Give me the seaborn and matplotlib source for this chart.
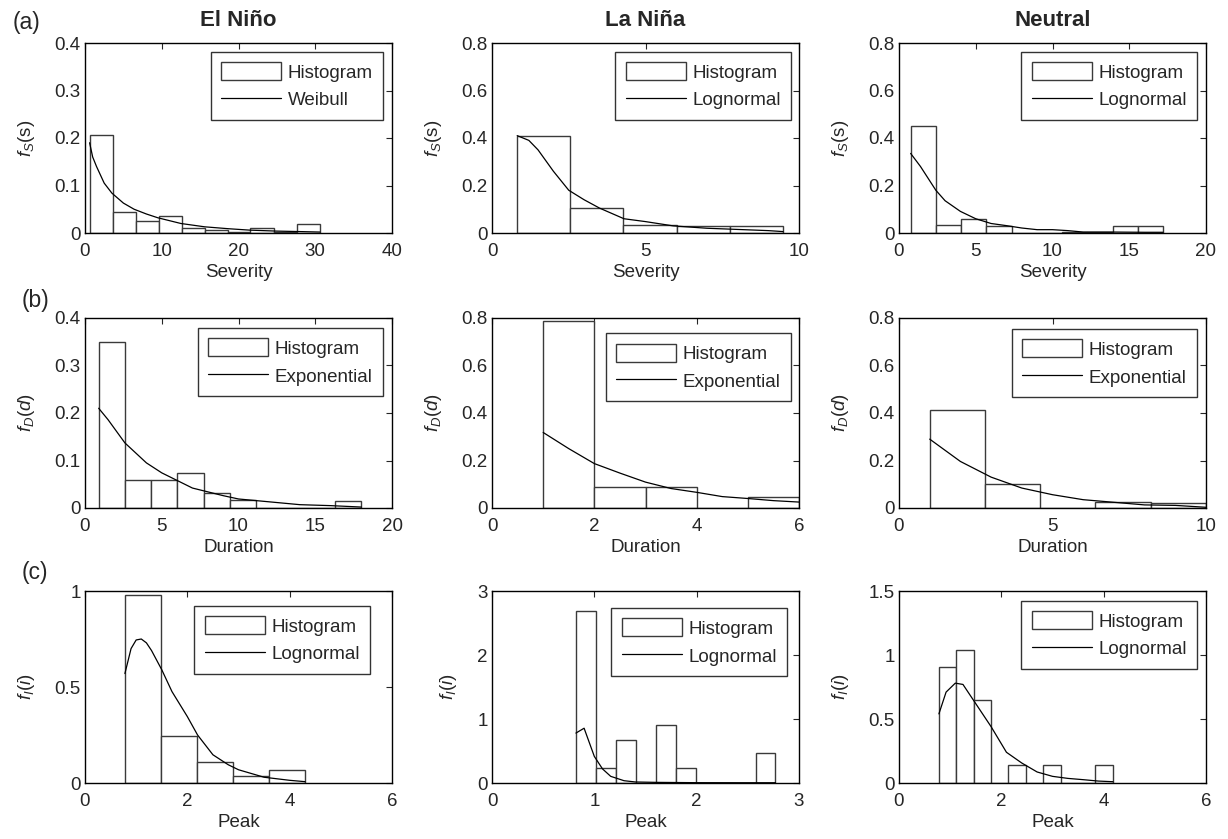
import numpy as np
import pandas as pd
import matplotlib
matplotlib.use("Agg")
import matplotlib.pyplot as plt
import seaborn as sns
from matplotlib.patches import Patch
from matplotlib.lines import Line2D
from matplotlib.ticker import FuncFormatter

# =============================================
# Data
# =============================================
phases = ['El Niño', 'La Niña', 'Neutral']
variables = ['Severity', 'Duration', 'Peak']
ylabels = [r'$f_S$(s)', r'$f_D(d)$', r'$f_I(i)$']
row_tags = ['(a)', '(b)', '(c)']
fit_names = [['Weibull', 'Lognormal', 'Lognormal'],
             ['Exponential', 'Exponential', 'Exponential'],
             ['Lognormal', 'Lognormal', 'Lognormal']]

# --- Severity ---
sev_nino_edges = [0.6, 3.6, 6.6, 9.6, 12.6, 15.6, 18.6, 21.5, 24.6, 27.6, 30.6]
sev_nino_hist = [0.207, 0.044, 0.025, 0.036, 0.0105, 0.007, 0.003, 0.0105, 0.003, 0.019]
sev_nino_fx = [0.6, 1.0, 1.5, 2.5, 3.5, 5.0, 6.4, 8.0, 9.5, 12.5, 15.6, 18.7, 21.5, 25.0, 28.0, 30.6]
sev_nino_fy = [0.19, 0.16, 0.14, 0.105, 0.084, 0.063, 0.05, 0.04, 0.032, 0.02, 0.013, 0.009, 0.006, 0.004, 0.003, 0.002]

sev_nina_edges = [0.82, 2.55, 4.28, 6.01, 7.75, 9.48]
sev_nina_hist = [0.408, 0.105, 0.032, 0.030, 0.031]
sev_nina_fx = [0.82, 1.2, 1.5, 2.0, 2.5, 3.0, 3.5, 4.3, 5.0, 5.9, 7.0, 8.0, 9.0, 9.48]
sev_nina_fy = [0.41, 0.39, 0.35, 0.26, 0.18, 0.14, 0.105, 0.06, 0.048, 0.03, 0.02, 0.015, 0.01, 0.006]

sev_neut_edges = [0.76, 2.40, 4.05, 5.69, 7.34, 8.98, 10.63, 12.27, 13.92, 15.56, 17.2]
sev_neut_hist = [0.452, 0.032, 0.057, 0.031, 0.0, 0.0, 0.005, 0.005, 0.031, 0.031]
sev_neut_fx = [0.76, 1.4, 2.4, 3.0, 4.0, 5.0, 6.0, 7.0, 8.0, 9.0, 10.0, 11.0, 12.0, 14.0, 16.0, 17.2]
sev_neut_fy = [0.335, 0.28, 0.18, 0.136, 0.091, 0.06, 0.04, 0.031, 0.021, 0.014, 0.014, 0.01, 0.004, 0.004, 0.003, 0.003]

# --- Duration ---
dur_nino_edges = [0.89, 2.6, 4.31, 6.02, 7.73, 9.44, 11.15, 12.86, 14.57, 16.28, 18.0]
dur_nino_hist = [0.349, 0.059, 0.059, 0.073, 0.032, 0.016, 0.0, 0.0, 0.0, 0.0155]
dur_nino_fx = [0.89, 1.5, 2.6, 4.0, 5.0, 6.0, 7.0, 8.0, 9.0, 10.0, 12.0, 14.0, 16.0, 18.0]
dur_nino_fy = [0.21, 0.186, 0.137, 0.095, 0.074, 0.058, 0.042, 0.034, 0.026, 0.019, 0.013, 0.007, 0.005, 0.002]

dur_nina_edges = [1.0, 2.0, 3.0, 4.0, 5.0, 6.0]
dur_nina_hist = [0.788, 0.088, 0.088, 0.0, 0.045]
dur_nina_fx = [1.0, 1.5, 2.0, 2.5, 3.0, 3.5, 4.0, 4.5, 5.0, 5.5, 6.0]
dur_nina_fy = [0.318, 0.25, 0.187, 0.147, 0.109, 0.082, 0.066, 0.048, 0.04, 0.031, 0.025]

dur_neut_edges = [1.0, 2.8, 4.6, 6.4, 8.2, 10.0]
dur_neut_hist = [0.412, 0.10, 0.0, 0.026, 0.022]
dur_neut_fx = [1.0, 2.0, 3.0, 4.0, 5.0, 6.0, 7.0, 8.0, 9.0, 10.0]
dur_neut_fy = [0.29, 0.196, 0.13, 0.084, 0.056, 0.035, 0.024, 0.013, 0.011, 0.003]

# --- Peak ---
peak_nino_edges = [0.78, 1.485, 2.19, 2.895, 3.60, 4.305]
peak_nino_hist = [0.977, 0.247, 0.107, 0.038, 0.067]
peak_nino_fx = [0.78, 0.9, 1.0, 1.1, 1.2, 1.3, 1.5, 1.7, 2.0, 2.2, 2.5, 2.8, 3.0, 3.5, 4.0, 4.3]
peak_nino_fy = [0.57, 0.70, 0.745, 0.75, 0.73, 0.69, 0.59, 0.476, 0.346, 0.25, 0.147, 0.095, 0.069, 0.03, 0.014, 0.007]

peak_nina_edges = [0.82, 1.015, 1.21, 1.405, 1.60, 1.795, 1.99, 2.185, 2.38, 2.575, 2.77]
peak_nina_hist = [2.69, 0.228, 0.67, 0.0, 0.903, 0.228, 0.0, 0.0, 0.0, 0.462]
peak_nina_fx = [0.82, 0.90, 1.0, 1.08, 1.16, 1.29, 1.40, 1.6, 2.0, 2.4, 2.77]
peak_nina_fy = [0.78, 0.856, 0.415, 0.22, 0.104, 0.036, 0.016, 0.01, 0.005, 0.004, 0.004]

peak_neut_edges = [0.78, 1.12, 1.46, 1.80, 2.14, 2.48, 2.82, 3.16, 3.50, 3.84, 4.18]
peak_neut_hist = [0.906, 1.036, 0.649, 0.0, 0.14, 0.0, 0.14, 0.0, 0.0, 0.14]
peak_neut_fx = [0.78, 0.92, 1.1, 1.25, 1.5, 1.8, 2.1, 2.4, 2.7, 3.0, 3.3, 3.6, 3.9, 4.18]
peak_neut_fy = [0.54, 0.71, 0.78, 0.77, 0.62, 0.44, 0.24, 0.156, 0.086, 0.052, 0.036, 0.026, 0.015, 0.01]

panels = [
    [(sev_nino_edges, sev_nino_hist, sev_nino_fx, sev_nino_fy),
     (sev_nina_edges, sev_nina_hist, sev_nina_fx, sev_nina_fy),
     (sev_neut_edges, sev_neut_hist, sev_neut_fx, sev_neut_fy)],
    [(dur_nino_edges, dur_nino_hist, dur_nino_fx, dur_nino_fy),
     (dur_nina_edges, dur_nina_hist, dur_nina_fx, dur_nina_fy),
     (dur_neut_edges, dur_neut_hist, dur_neut_fx, dur_neut_fy)],
    [(peak_nino_edges, peak_nino_hist, peak_nino_fx, peak_nino_fy),
     (peak_nina_edges, peak_nina_hist, peak_nina_fx, peak_nina_fy),
     (peak_neut_edges, peak_neut_hist, peak_neut_fx, peak_neut_fy)],
]

xlims = [[(0, 40), (0, 10), (0, 20)], [(0, 20), (0, 6), (0, 10)], [(0, 6), (0, 3), (0, 6)]]
xticks = [[[0, 10, 20, 30, 40], [0, 5, 10], [0, 5, 10, 15, 20]],
          [[0, 5, 10, 15, 20], [0, 2, 4, 6], [0, 5, 10]],
          [[0, 2, 4, 6], [0, 1, 2, 3], [0, 2, 4, 6]]]
ylims = [[(0, 0.4), (0, 0.8), (0, 0.8)], [(0, 0.4), (0, 0.8), (0, 0.8)], [(0, 1), (0, 3), (0, 1.5)]]
yticks = [[[0, 0.1, 0.2, 0.3, 0.4], [0, 0.2, 0.4, 0.6, 0.8], [0, 0.2, 0.4, 0.6, 0.8]],
          [[0, 0.1, 0.2, 0.3, 0.4], [0, 0.2, 0.4, 0.6, 0.8], [0, 0.2, 0.4, 0.6, 0.8]],
          [[0, 0.5, 1], [0, 1, 2, 3], [0, 0.5, 1, 1.5]]]
legend_anchor = [[(0.971, 0.953), (0.974, 0.953), (0.971, 0.953)],
                 [(0.971, 0.947), (0.974, 0.92), (0.971, 0.942)],
                 [(0.928, 0.922), (0.961, 0.911), (0.971, 0.948)]]

# =============================================
# Plotting
# =============================================
sns.set_style("white")
plt.rcParams['font.family'] = ['Liberation Sans', 'DejaVu Sans']
plt.rcParams['mathtext.fontset'] = 'custom'
plt.rcParams['mathtext.rm'] = 'Liberation Sans'
plt.rcParams['mathtext.it'] = 'Liberation Sans:italic'
plt.rcParams['font.size'] = 13.5

W, H = 1228, 839
fig = plt.figure(figsize=(W / 100, H / 100), dpi=100)

col_left = [85, 492, 899]
row_top = [43, 318, 591]
row_h = [190, 190, 192]
ax_w = 307

hist_edge = '#3a3a3a'
fmt = FuncFormatter(lambda v, p: '%g' % v)

for r in range(3):
    for c in range(3):
        left = col_left[c] / W
        bottom = 1 - (row_top[r] + row_h[r]) / H
        ax = fig.add_axes([left, bottom, ax_w / W, row_h[r] / H])
        edges, hist, fx, fy = panels[r][c]
        centers = [(edges[i] + edges[i + 1]) / 2 for i in range(len(hist))]
        df_h = pd.DataFrame({'x': centers, 'w': hist})
        sns.histplot(data=df_h, x='x', weights='w', bins=edges, stat='count',
                     color='white', edgecolor=hist_edge, linewidth=1.0,
                     alpha=1, ax=ax)
        df_f = pd.DataFrame({'x': fx, 'y': fy})
        sns.lineplot(data=df_f, x='x', y='y', color='black', linewidth=0.9, ax=ax)

        ax.set_xlim(*xlims[r][c])
        ax.set_ylim(*ylims[r][c])
        ax.set_xticks(xticks[r][c])
        ax.set_yticks(yticks[r][c])
        ax.xaxis.set_major_formatter(fmt)
        ax.yaxis.set_major_formatter(fmt)
        ax.tick_params(direction='in', top=True, right=True, length=4,
                       width=0.8, labelsize=13.5)
        ax.tick_params(axis='x', pad=7)
        ax.tick_params(axis='y', pad=3)
        for s in ax.spines.values():
            s.set_visible(True)
            s.set_color('black')
            s.set_linewidth(1.0)
        ax.set_xlabel(variables[r], fontsize=13.5, labelpad=3)
        ax.set_ylabel(ylabels[r], fontsize=13.5, labelpad=13)
        if r == 0:
            ax.set_title(phases[c], fontsize=16, fontweight='bold', pad=12)

        handles = [Patch(facecolor='white', edgecolor=hist_edge, linewidth=1.0),
                   Line2D([0], [0], color='black', linewidth=0.9)]
        leg = ax.legend(handles, ['Histogram', fit_names[r][c]],
                        loc='upper right', bbox_to_anchor=legend_anchor[r][c],
                        borderaxespad=0, fontsize=13.5, frameon=True, fancybox=False,
                        handlelength=3.2, handleheight=1.1, handletextpad=0.35,
                        labelspacing=0.45, borderpad=0.55)
        leg.get_frame().set_edgecolor('black')
        leg.get_frame().set_linewidth(1.0)

tag_x = [13, 22, 22]
tag_y = [22, 301, 573]
for r in range(3):
    fig.text(tag_x[r] / W, 1 - tag_y[r] / H, row_tags[r], fontsize=16.5,
             ha='left', va='center')

fig.savefig('out.png', dpi=100)
